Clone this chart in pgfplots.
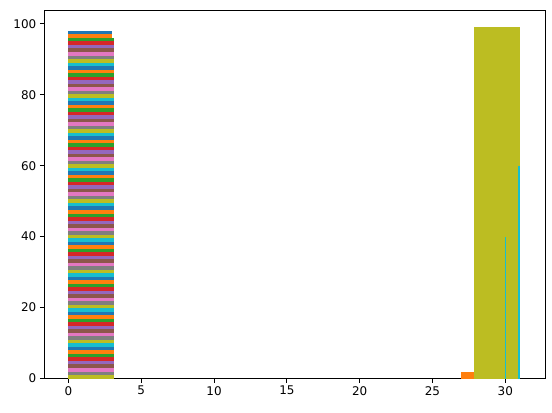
\documentclass[border=0pt]{standalone}
\usepackage{pgfplots}
\pgfplotsset{compat=1.18}
\usepackage{fontspec}
\setmainfont{DejaVu Sans}
\definecolor{c0}{HTML}{1F77B4}
\definecolor{c1}{HTML}{FF7F0E}
\definecolor{c2}{HTML}{2CA02C}
\definecolor{c3}{HTML}{D62728}
\definecolor{c4}{HTML}{9467BD}
\definecolor{c5}{HTML}{8C564B}
\definecolor{c6}{HTML}{E377C2}
\definecolor{c7}{HTML}{7F7F7F}
\definecolor{c8}{HTML}{BCBD22}
\definecolor{c9}{HTML}{17BECF}

\begin{document}
\begin{tikzpicture}
\begin{axis}[
    scale only axis,
    width=501bp, height=368.5bp,
    xmin=-1.68, xmax=32.73,
    ymin=0, ymax=103.9,
    xtick={0,5,10,15,20,25,30},
    ytick={0,20,40,60,80,100},
    tick align=outside, tick pos=left,
    major tick length=4.2bp,
    axis line style={line width=0.8bp},
    every tick/.style={black, line width=0.8bp},
    tick label style={font=\fontsize{12}{14}\selectfont},
    /pgf/number format/assume math mode=true,
    cycle list={
        {fill=c0,draw=none},{fill=c1,draw=none},{fill=c2,draw=none},
        {fill=c3,draw=none},{fill=c4,draw=none},{fill=c5,draw=none},
        {fill=c6,draw=none},{fill=c7,draw=none},{fill=c8,draw=none},
        {fill=c9,draw=none}},
]
% stacked-looking bars at x=0, drawn tallest first (height/width)
\pgfplotsforeachungrouped \h/\w in {
    98.00/3.0, 97.01/3.0, 96.02/3.12, 95.03/3.12, 94.04/3.12,
    93.05/3.12, 92.06/3.12, 91.07/3.12, 90.08/3.12, 89.09/3.12,
    88.10/3.12, 87.11/3.12, 86.12/3.12, 85.13/3.12, 84.14/3.12,
    83.15/3.12, 82.16/3.12, 81.17/3.12, 80.18/3.12, 79.19/3.12,
    78.20/3.12, 77.21/3.12, 76.22/3.12, 75.23/3.12, 74.24/3.12,
    73.25/3.12, 72.26/3.12, 71.27/3.12, 70.28/3.12, 69.29/3.12,
    68.30/3.12, 67.31/3.12, 66.32/3.12, 65.33/3.12, 64.34/3.12,
    63.35/3.12, 62.36/3.12, 61.37/3.12, 60.38/3.12, 59.39/3.12,
    58.40/3.12, 57.41/3.12, 56.42/3.12, 55.43/3.12, 54.44/3.12,
    53.45/3.12, 52.46/3.12, 51.47/3.12, 50.48/3.12, 49.49/3.12,
    48.50/3.12, 47.51/3.12, 46.52/3.12, 45.53/3.12, 44.54/3.12,
    43.55/3.12, 42.56/3.12, 41.57/3.12, 40.58/3.12, 39.59/3.12,
    38.60/3.12, 37.61/3.12, 36.62/3.12, 35.63/3.12, 34.64/3.12,
    33.65/3.12, 32.66/3.12, 31.67/3.12, 30.68/3.12, 29.69/3.12,
    28.70/3.12, 27.71/3.12, 26.72/3.12, 25.73/3.12, 24.74/3.12,
    23.75/3.12, 22.76/3.12, 21.77/3.12, 20.78/3.12, 19.79/3.12,
    18.80/3.12, 17.81/3.12, 16.82/3.12, 15.83/3.12, 14.84/3.12,
    13.85/3.12, 12.86/3.12, 11.87/3.12, 10.88/3.12, 9.89/3.12,
    8.90/3.12, 7.91/3.12, 6.92/3.12, 5.93/3.12, 4.94/3.12,
    3.95/3.12, 2.96/3.12, 1.97/3.12, 0.98/3.12} {
    \edef\tmp{\noexpand\addplot+ coordinates {(0,0) (0,\h) (\w,\h) (\w,0)};}
    \tmp
}
% right-hand bars
\addplot[fill=c1, draw=none] coordinates {(26.96,0) (26.96,1.8) (27.85,1.8) (27.85,0)};
\addplot[fill=c8, draw=none] coordinates {(27.85,0) (27.85,99.2) (31.0,99.2) (31.0,0)};
\addplot[fill=c9, draw=none] coordinates {(30.87,0) (30.87,60) (31.0,60) (31.0,0)};
\addplot[c9, line width=1bp] coordinates {(30,0) (30,40)};
\end{axis}
\pgfresetboundingbox
\path[use as bounding box] ([shift={(-44bp,-34.5bp)}]current axis.south west)
    rectangle ([shift={(7bp,10bp)}]current axis.north east);
\end{tikzpicture}
\end{document}
